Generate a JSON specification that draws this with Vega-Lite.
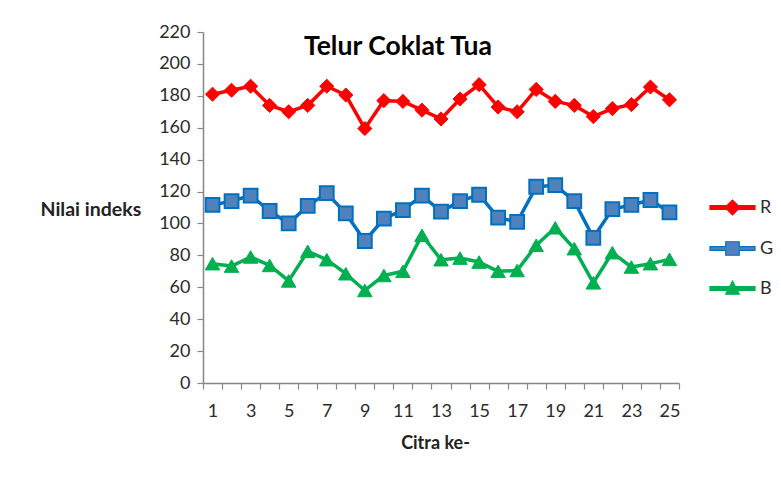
{
  "$schema": "https://vega.github.io/schema/vega-lite/v6.json",
  "autosize": {"type": "none"},
  "width": 476,
  "height": 351,
  "padding": {"left": 203, "top": 32, "right": 102, "bottom": 98},
  "background": "white",
  "config": {"view": {"stroke": null}, "font": "Lato"},
  "title": {
    "text": "Telur Coklat Tua",
    "anchor": "middle",
    "frame": "group",
    "offset": 0,
    "baseline": "middle",
    "dy": 50,
    "dx": -43,
    "font": "Lato",
    "fontSize": 26.5,
    "fontWeight": "bold",
    "color": "#000000"
  },
  "data": {
    "values": [
      {"i": 1, "s": "R", "v": 181}, {"i": 2, "s": "R", "v": 183.5}, {"i": 3, "s": "R", "v": 186}, {"i": 4, "s": "R", "v": 174}, {"i": 5, "s": "R", "v": 170},
      {"i": 6, "s": "R", "v": 174}, {"i": 7, "s": "R", "v": 186}, {"i": 8, "s": "R", "v": 180.5}, {"i": 9, "s": "R", "v": 159.5}, {"i": 10, "s": "R", "v": 177},
      {"i": 11, "s": "R", "v": 176.5}, {"i": 12, "s": "R", "v": 171}, {"i": 13, "s": "R", "v": 165.5}, {"i": 14, "s": "R", "v": 178}, {"i": 15, "s": "R", "v": 187},
      {"i": 16, "s": "R", "v": 173}, {"i": 17, "s": "R", "v": 170}, {"i": 18, "s": "R", "v": 184}, {"i": 19, "s": "R", "v": 176.5}, {"i": 20, "s": "R", "v": 174},
      {"i": 21, "s": "R", "v": 167}, {"i": 22, "s": "R", "v": 172}, {"i": 23, "s": "R", "v": 174.5}, {"i": 24, "s": "R", "v": 185.5}, {"i": 25, "s": "R", "v": 177.5},
      {"i": 1, "s": "G", "v": 111.6}, {"i": 2, "s": "G", "v": 114}, {"i": 3, "s": "G", "v": 117.5}, {"i": 4, "s": "G", "v": 107.8}, {"i": 5, "s": "G", "v": 100},
      {"i": 6, "s": "G", "v": 111}, {"i": 7, "s": "G", "v": 119}, {"i": 8, "s": "G", "v": 106.3}, {"i": 9, "s": "G", "v": 89}, {"i": 10, "s": "G", "v": 103},
      {"i": 11, "s": "G", "v": 108.4}, {"i": 12, "s": "G", "v": 117.5}, {"i": 13, "s": "G", "v": 107.4}, {"i": 14, "s": "G", "v": 114}, {"i": 15, "s": "G", "v": 118},
      {"i": 16, "s": "G", "v": 103.6}, {"i": 17, "s": "G", "v": 101}, {"i": 18, "s": "G", "v": 123}, {"i": 19, "s": "G", "v": 124}, {"i": 20, "s": "G", "v": 114},
      {"i": 21, "s": "G", "v": 91}, {"i": 22, "s": "G", "v": 109}, {"i": 23, "s": "G", "v": 111.6}, {"i": 24, "s": "G", "v": 114.7}, {"i": 25, "s": "G", "v": 107},
      {"i": 1, "s": "B", "v": 74.8}, {"i": 2, "s": "B", "v": 73.3}, {"i": 3, "s": "B", "v": 79}, {"i": 4, "s": "B", "v": 73.7}, {"i": 5, "s": "B", "v": 64},
      {"i": 6, "s": "B", "v": 82.5}, {"i": 7, "s": "B", "v": 77.3}, {"i": 8, "s": "B", "v": 68.5}, {"i": 9, "s": "B", "v": 58}, {"i": 10, "s": "B", "v": 67.4},
      {"i": 11, "s": "B", "v": 70}, {"i": 12, "s": "B", "v": 92.6}, {"i": 13, "s": "B", "v": 77.3}, {"i": 14, "s": "B", "v": 78.3}, {"i": 15, "s": "B", "v": 75.8},
      {"i": 16, "s": "B", "v": 70}, {"i": 17, "s": "B", "v": 70.5}, {"i": 18, "s": "B", "v": 86.3}, {"i": 19, "s": "B", "v": 97.3}, {"i": 20, "s": "B", "v": 84.2},
      {"i": 21, "s": "B", "v": 62.8}, {"i": 22, "s": "B", "v": 81.7}, {"i": 23, "s": "B", "v": 72.7}, {"i": 24, "s": "B", "v": 74.8}, {"i": 25, "s": "B", "v": 77.5}
    ]
  },
  "encoding": {
    "y": {
      "field": "v", "type": "quantitative",
      "scale": {"domain": [0, 220], "nice": false},
      "axis": {
        "values": [0, 20, 40, 60, 80, 100, 120, 140, 160, 180, 200, 220],
        "labelOverlap": false, "labelBound": false, "labelFlush": false,
        "grid": false, "tickSize": 6, "tickColor": "#868686", "domainColor": "#868686", "domainWidth": 1.5, "tickWidth": 1.2,
        "labelFont": "Lato", "labelFontSize": 18, "labelColor": "#2b2b2b", "labelPadding": 7,
        "title": "Nilai indeks", "titleAngle": 0, "titleAlign": "left", "titleBaseline": "middle",
        "titleX": -163, "titleY": 177, "titleFont": "Lato", "titleFontSize": 19.5, "titleFontWeight": "bold", "titleColor": "#222222"
      }
    }
  },
  "layer": [
    {
      "mark": {"type": "line", "strokeWidth": 3.5, "strokeJoin": "round"},
      "encoding": {
        "x": {
          "field": "i", "type": "quantitative",
          "scale": {"domain": [0.5, 25.5], "nice": false, "zero": false},
          "axis": {
            "orient": "bottom",
            "values": [0.5, 1.5, 2.5, 3.5, 4.5, 5.5, 6.5, 7.5, 8.5, 9.5, 10.5, 11.5, 12.5, 13.5, 14.5, 15.5, 16.5, 17.5, 18.5, 19.5, 20.5, 21.5, 22.5, 23.5, 24.5, 25.5],
            "labels": false, "grid": false, "title": null,
            "tickSize": 6, "tickColor": "#868686", "domainColor": "#868686", "domainWidth": 1.5, "tickWidth": 1.2
          }
        },
        "stroke": {
          "field": "s", "type": "nominal",
          "scale": {"domain": ["R", "G", "B"], "range": ["#FF0000", "#0070C0", "#00B050"]},
          "legend": {
            "title": null, "orient": "none", "legendX": 506, "legendY": 152, "padding": 0,
            "symbolSize": 2025, "rowPadding": 7, "labelOffset": 4,
            "labelFont": "Lato", "labelFontSize": 18, "labelColor": "#2b2b2b",
            "encode": {
              "symbols": {
                "update": {
                  "shape": {"signal": "datum.value == 'R' ? 'M-1,-0.08H-0.25L0,-0.33L0.25,-0.08H1V0.08H0.25L0,0.33L-0.25,0.08H-1Z' : datum.value == 'G' ? 'M-1,-0.08H-0.3V-0.3H0.3V-0.08H1V0.08H0.3V0.3H-0.3V0.08H-1Z' : 'M-1,-0.08H-0.129L0,-0.33L0.129,-0.08H1V0.08H0.212L0.3,0.25H-0.3L-0.212,0.08H-1Z'"},
                  "fill": {"signal": "datum.value == 'R' ? '#FF0000' : datum.value == 'G' ? '#4F81BD' : '#00B050'"},
                  "stroke": {"signal": "datum.value == 'R' ? '#FF0000' : datum.value == 'G' ? '#0070C0' : '#00B050'"},
                  "strokeWidth": {"value": 1.2},
                  "size": {"value": 2025},
                  "opacity": {"value": 1}
                }
              }
            }
          }
        }
      }
    },
    {
      "transform": [{"filter": "datum.s == 'R'"}],
      "mark": {"type": "point", "shape": "diamond", "filled": true, "fill": "#FF0000", "stroke": "#FF0000", "strokeWidth": 1, "opacity": 1, "size": 200},
      "encoding": {
        "x": {
          "field": "i", "type": "quantitative",
          "axis": {
            "orient": "bottom",
            "values": [1, 3, 5, 7, 9, 11, 13, 15, 17, 19, 21, 23, 25],
            "ticks": false, "domain": false, "grid": false,
            "labelFont": "Lato", "labelFontSize": 18, "labelColor": "#2b2b2b", "labelPadding": 19,
            "title": "Citra ke-", "titleFont": "Lato", "titleFontSize": 18, "titleFontWeight": "bold", "titleColor": "#222222",
            "titleX": 232, "titleY": 60, "titleAlign": "center", "titleBaseline": "middle"
          }
        }
      }
    },
    {
      "transform": [{"filter": "datum.s == 'G'"}],
      "mark": {"type": "point", "shape": "square", "filled": true, "fill": "#4F81BD", "stroke": "#0070C0", "strokeWidth": 2, "opacity": 1, "size": 190},
      "encoding": {
        "x": {"field": "i", "type": "quantitative", "axis": null}
      }
    },
    {
      "transform": [{"filter": "datum.s == 'B'"}],
      "mark": {"type": "point", "shape": "triangle-up", "filled": true, "fill": "#00B050", "stroke": "#00B050", "strokeWidth": 1, "opacity": 1, "size": 210},
      "encoding": {
        "x": {"field": "i", "type": "quantitative", "axis": null}
      }
    }
  ],
  "resolve": {"axis": {"x": "independent"}}
}
